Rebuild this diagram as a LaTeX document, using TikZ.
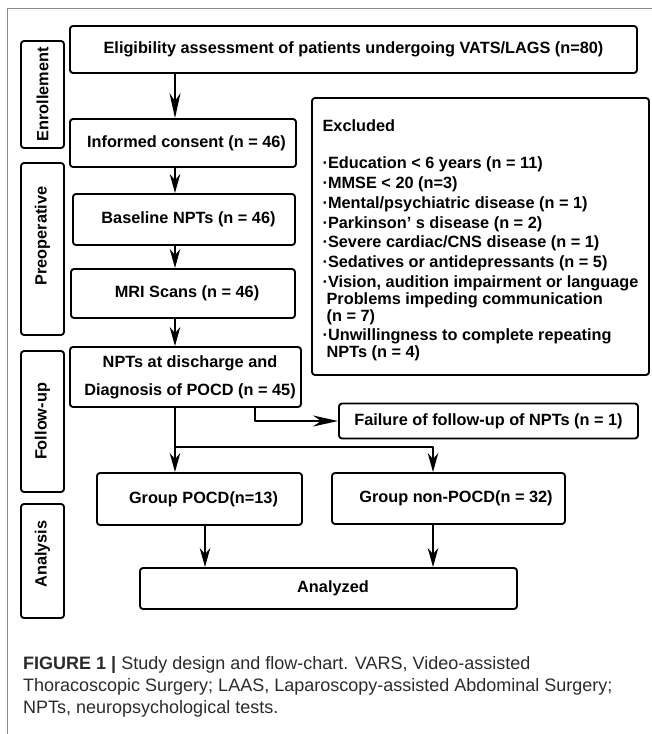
\documentclass[tikz,border=0pt]{standalone}
\usepackage{fontspec}
\setmainfont{Liberation Sans}
\usetikzlibrary{arrows.meta}
\definecolor{capgray}{HTML}{2B2B2B}
\definecolor{framegray}{HTML}{8C8C8C}
\tikzset{
  box/.style={draw, line width=1.9pt, rounded corners=3pt, inner sep=2pt,
    font=\bfseries\fontsize{16.3}{19}\selectfont},
  side/.style={box, rotate=90, minimum height=43pt},
  nudge/.style={execute at begin node={\hspace*{#1}}},
  arr/.style={-{Stealth[length=19pt,width=10.5pt,inset=6pt]}, line width=1.9pt},
  longarr/.style={-{Stealth[length=25pt,width=11pt,inset=8pt]}, line width=1.9pt}
}
\begin{document}
\begin{tikzpicture}[x=1pt, y=-1pt, line join=round]
  \useasboundingbox (0,0) rectangle (652,734);
  % frame of the figure panel
  \draw[framegray, line width=1.3pt] (7.5,734) -- (7.5,8.5) -- (652,8.5);
  % stages
  \node[side, minimum width=107pt] (enroll) at (42.5,94.5) {Enrollement};
  \node[side, nudge=26pt, minimum width=172pt] (preop) at (42.5,249) {Preoperative};
  \node[side, minimum width=141pt] (follow) at (42.5,421.5) {Follow-up};
  \node[side, nudge=14pt, minimum width=114pt] (analysis) at (42.5,561) {Analysis};
  % flow
  \node[box, minimum width=567pt, minimum height=47pt] (elig) at (353.5,49.5)
    {Eligibility assessment of patients undergoing VATS/LAGS (n=80)};
  \node[box, nudge=7pt, minimum width=226pt, minimum height=48pt] (consent) at (183,143)
    {Informed consent (n = 46)};
  \node[box, nudge=9pt, minimum width=222pt, minimum height=51pt] (baseline) at (184,219.5)
    {Baseline NPTs (n = 46)};
  \node[box, nudge=8pt, minimum width=224pt, minimum height=49pt] (mri) at (183,293.5)
    {MRI Scans (n = 46)};
  \node[box, align=center, minimum width=231pt, minimum height=60pt] (disch) at (185.5,377)
    {\hspace*{9pt}NPTs at discharge and\\[9pt] \hspace*{9pt}Diagnosis of POCD (n = 45)};
  \node[box, align=left, minimum width=337pt, minimum height=277pt,
    font=\bfseries\fontsize{16.3}{16.8}\selectfont] (excl) at (480.5,236.5)
    {\rule{0pt}{20pt}Excluded\\[20pt]
     ·Education < 6 years (n = 11)\\[3pt]
     ·MMSE < 20 (n=3)\\[3pt]
     ·Mental/psychiatric disease (n = 1)\\[3pt]
     ·Parkinson’ s disease (n = 2)\\[3pt]
     ·Severe cardiac/CNS disease (n = 1)\\[3pt]
     ·Sedatives or antidepressants (n = 5)\\[3pt]
     ·Vision, audition impairment or language\\
     \hspace*{4pt}Problems impeding communication\\
     \hspace*{4pt}(n = 7)\\[3pt]
     ·Unwillingness to complete repeating\\
     \hspace*{4pt}NPTs (n = 4)};
  \node[box, minimum width=299pt, minimum height=35pt] (failure) at (488.5,421)
    {Failure of follow-up of NPTs (n = 1)};
  \node[box, nudge=8pt, minimum width=205pt, minimum height=52pt] (gpocd) at (199.5,499)
    {Group POCD(n=13)};
  \node[box, nudge=15pt, minimum width=233pt, minimum height=51pt] (gnon) at (448.5,498.5)
    {Group non-POCD(n = 32)};
  \node[box, nudge=9pt, minimum width=377pt, minimum height=41pt] (analyzed) at (328.5,588.5)
    {Analyzed};
  % connectors
  \coordinate (xmain) at (175,0);
  \coordinate (xfail) at (255,0);
  \coordinate (xpocd) at (205,0);
  \coordinate (xnon) at (433,0);
  \coordinate (split) at (175,447);
  \draw[longarr] (elig.south -| xmain) -- (consent.north -| xmain);
  \draw[arr] (consent.south -| xmain) -- (baseline.north -| xmain);
  \draw[arr] (baseline.south -| xmain) -- (mri.north -| xmain);
  \draw[arr] (mri.south -| xmain) -- (disch.north -| xmain);
  \draw[arr] (disch.south -| xmain) -- (gpocd.north -| xmain);
  \draw[arr] (split) -| (gnon.north -| xnon);
  \draw[longarr] (disch.south -| xfail) |- (failure.west);
  \draw[arr] (gpocd.south -| xpocd) -- (analyzed.north -| xpocd);
  \draw[arr] (gnon.south -| xnon) -- (analyzed.north -| xnon);
  % caption
  \node[anchor=north west, align=left, inner sep=0pt, text=capgray,
    font=\fontsize{18}{22}\selectfont] (caption) at (23,656)
    {\textbf{FIGURE 1 |} Study design and flow-chart. VARS, Video-assisted\\
     Thoracoscopic Surgery; LAAS, Laparoscopy-assisted Abdominal Surgery;\\
     NPTs, neuropsychological tests.};
\end{tikzpicture}
\end{document}
